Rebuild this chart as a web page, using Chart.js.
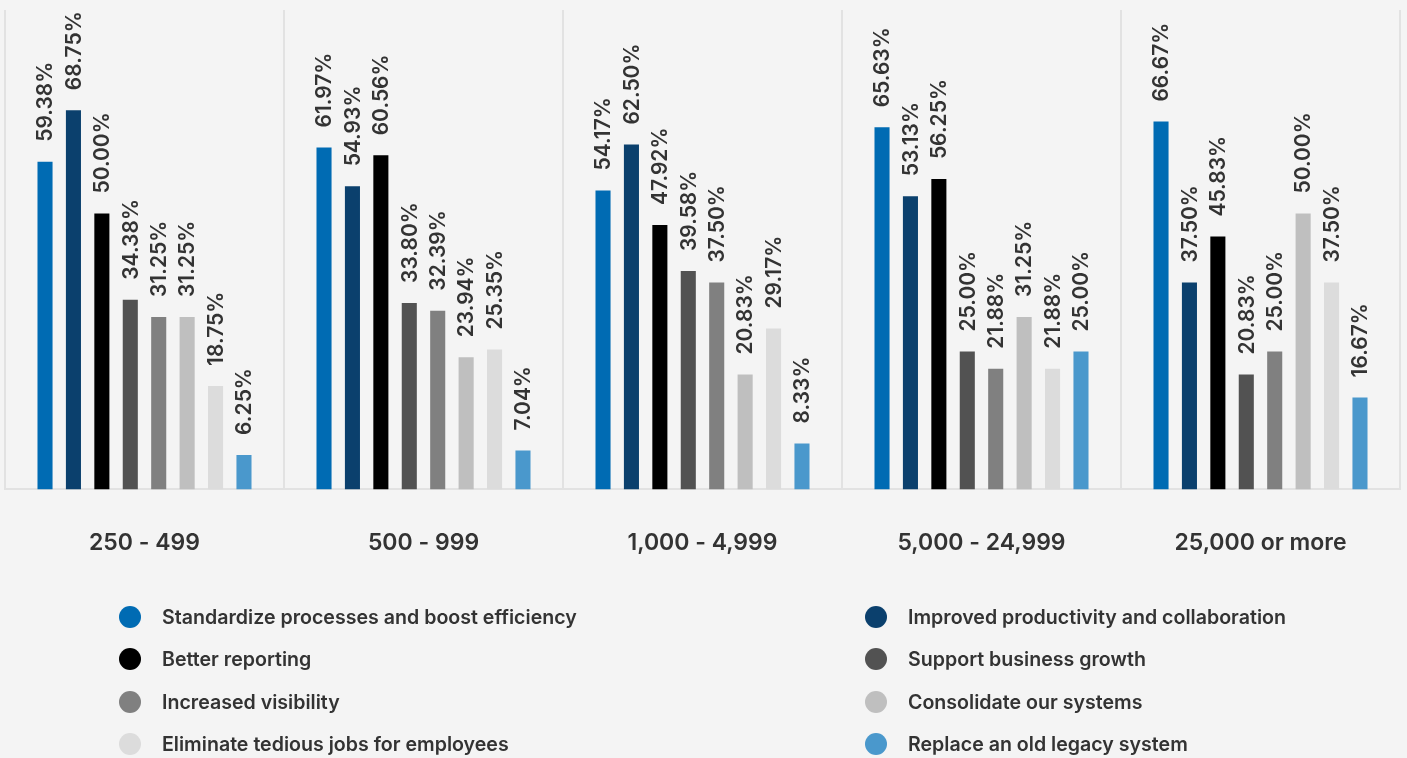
<!DOCTYPE html>
<html>
<head>
<meta charset="utf-8">
<script src="https://cdn.jsdelivr.net/npm/chart.js@4/dist/chart.umd.min.js"></script>
<style>
  html, body { margin: 0; padding: 0; background: #f4f4f4; }
  body { width: 1407px; height: 758px; position: relative; overflow: hidden; font-family: Inter, Lato, sans-serif; }
  #wrap { position: absolute; left: 0; top: 0; width: 1407px; height: 603px; }
  #legend { position: absolute; left: 0; top: 596px; width: 1407px; height: 162px; }
  .item { position: absolute; display: flex; align-items: center; font-weight: 600; font-size: 19.6px; color: #333; white-space: nowrap; }
  .dot { width: 22px; height: 22px; border-radius: 50%; margin-right: 21px; flex: none; }
</style>
</head>
<body>
<div id="wrap"><canvas id="chart"></canvas></div>
<div id="legend"></div>
<script>
// Company size groups along the x axis
const categories = ['250 - 499', '500 - 999', '1,000 - 4,999', '5,000 - 24,999', '25,000 or more'];

// Reasons (series), in bar order within each group
const seriesNames = [
  'Standardize processes and boost efficiency',
  'Improved productivity and collaboration',
  'Better reporting',
  'Support business growth',
  'Increased visibility',
  'Consolidate our systems',
  'Eliminate tedious jobs for employees',
  'Replace an old legacy system'
];
const seriesColors = ['#006bb3', '#0b406d', '#000000', '#525252', '#808080', '#bfbfbf', '#dcdcdc', '#4a98cc'];

// Share of respondents (%) per reason, one value per company size
const standardize  = [59.38, 61.97, 54.17, 65.63, 66.67];
const productivity = [68.75, 54.93, 62.50, 53.13, 37.50];
const reporting    = [50.00, 60.56, 47.92, 56.25, 45.83];
const growth       = [34.38, 33.80, 39.58, 25.00, 20.83];
const visibility   = [31.25, 32.39, 37.50, 21.88, 25.00];
const consolidate  = [31.25, 23.94, 20.83, 31.25, 50.00];
const tedious      = [18.75, 25.35, 29.17, 21.88, 37.50];
const legacy       = [6.25, 7.04, 8.33, 25.00, 16.67];

const seriesValues = [standardize, productivity, reporting, growth, visibility, consolidate, tedious, legacy];

const FONT = 'Inter, Lato, sans-serif';

// Rotated percentage labels above each bar
const valueLabels = {
  id: 'valueLabels',
  afterDatasetsDraw(chart) {
    const ctx = chart.ctx;
    ctx.save();
    ctx.font = '600 21px ' + FONT;
    ctx.fillStyle = '#333333';
    ctx.textAlign = 'left';
    ctx.textBaseline = 'middle';
    chart.data.datasets.forEach((ds, i) => {
      chart.getDatasetMeta(i).data.forEach((bar, j) => {
        ctx.save();
        ctx.translate(bar.x, bar.y - 20);
        ctx.rotate(-Math.PI / 2);
        ctx.fillText(ds.data[j].toFixed(2) + '%', 0, 1);
        ctx.restore();
      });
    });
    ctx.restore();
  }
};

new Chart(document.getElementById('chart'), {
  type: 'bar',
  data: {
    labels: categories,
    datasets: seriesNames.map((name, i) => ({
      label: name,
      data: seriesValues[i],
      backgroundColor: seriesColors[i],
      borderWidth: 0,
      categoryPercentage: 0.815,
      barPercentage: 0.53
    }))
  },
  options: {
    responsive: true,
    maintainAspectRatio: false,
    animation: false,
    layout: { padding: { left: 5, right: 7, top: 10, bottom: 6 } },
    plugins: {
      legend: { display: false },
      tooltip: { enabled: false }
    },
    scales: {
      x: {
        grid: { display: true, color: '#e2e2e2', lineWidth: 2, drawTicks: false, offset: true },
        border: { display: true, color: '#e2e2e2', width: 2 },
        ticks: { color: '#333333', font: { family: FONT, size: 23, weight: '600' }, padding: 40 }
      },
      y: {
        display: false,
        min: 0,
        max: 86.9
      }
    }
  },
  plugins: [valueLabels]
});

// Two-column legend below the chart
const legend = document.getElementById('legend');
seriesNames.forEach((name, i) => {
  const el = document.createElement('div');
  el.className = 'item';
  const col = i % 2, row = Math.floor(i / 2);
  el.style.left = (col === 0 ? 119 : 865) + 'px';
  el.style.top = (row * 42.3 + 9) + 'px';
  const dot = document.createElement('span');
  dot.className = 'dot';
  dot.style.background = seriesColors[i];
  el.appendChild(dot);
  el.appendChild(document.createTextNode(name));
  legend.appendChild(el);
});
</script>
</body>
</html>
